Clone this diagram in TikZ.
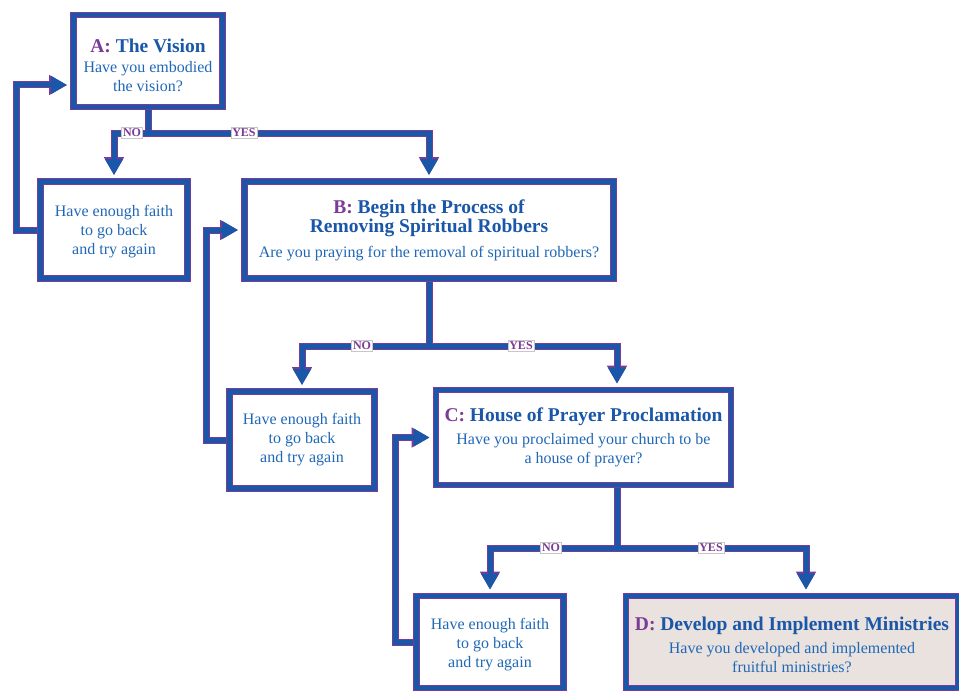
\documentclass[tikz,border=0pt]{standalone}
\usepackage{fontspec}
\setmainfont{Liberation Serif}
\usetikzlibrary{arrows.meta}
\definecolor{mblue}{RGB}{27,87,168}
\definecolor{tblue}{RGB}{32,104,182}
\definecolor{mpurple}{RGB}{125,58,150}
\definecolor{dfill}{RGB}{233,226,222}
\newcommand{\ttlfont}{\fontsize{19.5}{21}\selectfont\bfseries\color{mblue}}
\newcommand{\steptitle}[2]{{\ttlfont\textcolor{mpurple}{#1:} #2}}
\tikzset{
    box/.style = {draw=mpurple, line width=1pt, double=mblue, double distance=4.8pt, fill=white, outer sep=3.4pt, inner sep=0, align=center, text=tblue, font=\fontsize{16}{19}\selectfont},
    faith/.style = {box, minimum width=147pt, minimum height=97pt},
    pipe/.style n args = {4}{draw=#1, line width=#2, >={Triangle[width=#3, length=#4]}},
    arr/.style = {->, shorten >=3pt},
    arrs/.style = {<->, shorten >=3pt, shorten <=3pt},
    lbl/.style = {fill=white, draw=black!22, line width=0.5pt, inner sep=1.5pt, text=mpurple, font=\fontsize{12}{12}\selectfont\bfseries}
}
\begin{document}
\begin{tikzpicture}[x=1pt, y=-1pt]
    \clip (0,0) rectangle (959,693);

    \node [box, minimum width=149pt, minimum height=92pt] (A) at (148,61) {\rule{0pt}{22pt}\steptitle{A}{The Vision}\\[1pt] Have you embodied\\ the vision?};
    \node [faith] (F1) at (114,230) {\rule{0pt}{14pt}Have enough faith\\ to go back\\ and try again};
    \node [box, minimum width=369pt, minimum height=97pt] (B) at (429,230) {\steptitle{B}{Begin the Process of}\\ {\ttlfont Removing Spiritual Robbers}\\[6pt] Are you praying for the removal of spiritual robbers?};
    \node [faith, minimum width=145pt] (F2) at (302,440) {Have enough faith\\ to go back\\ and try again};
    \node [box, minimum width=295pt, minimum height=95pt] (C) at (583.5,437.5) {\steptitle{C}{House of Prayer Proclamation}\\[4pt] Have you proclaimed your church to be\\ a house of prayer?};
    \node [faith, minimum height=92pt] (F3) at (490,642) {\rule{0pt}{16pt}Have enough faith\\ to go back\\ and try again};
    \node [box, fill=dfill, minimum width=332pt, minimum height=92pt] (D) at (792,642) {\rule{0pt}{19pt}\steptitle{D}{Develop and Implement Ministries}\\[4pt] Have you developed and implemented\\ fruitful ministries?};

    \coordinate (jA) at (148,133);
    \coordinate (jB) at (429,346);
    \coordinate (jC) at (617,548);
    \coordinate (jD) at (806,548);

    \foreach \c/\w/\tw/\tl in {mpurple/7pt/19pt/18pt, mblue/5pt/17pt/16pt} {
        \draw [pipe={\c}{\w}{\tw}{\tl}] (A.south) -- (jA);
        \draw [pipe={\c}{\w}{\tw}{\tl}, arrs] (F1.north) |- (jA) -| (B.north);
        \draw [pipe={\c}{\w}{\tw}{\tl}, arr] (F1.west) -- ++(-21,0) |- ([yshift=-24pt]A.west);

        \draw [pipe={\c}{\w}{\tw}{\tl}] (B.south) -- (jB);
        \draw [pipe={\c}{\w}{\tw}{\tl}, arrs] (F2.north) |- (jB) -| (C.north -| jC);
        \draw [pipe={\c}{\w}{\tw}{\tl}, arr] (F2.west) -- ++(-20,0) |- (B.west);

        \draw [pipe={\c}{\w}{\tw}{\tl}] (C.south -| jC) -- (jC);
        \draw [pipe={\c}{\w}{\tw}{\tl}, arrs] (F3.north) |- (jC) -- (jD) -- (D.north -| jD);
        \draw [pipe={\c}{\w}{\tw}{\tl}, arr] (F3.west) -- ++(-18,0) |- (C.west);
    }

    \node [lbl] (noA) at (132,133) {NO};
    \node [lbl] (yesA) at (244,133) {YES};
    \node [lbl] (noB) at (362,346) {NO};
    \node [lbl] (yesB) at (521,346) {YES};
    \node [lbl] (noC) at (551,548) {NO};
    \node [lbl] (yesC) at (711,548) {YES};
\end{tikzpicture}
\end{document}
